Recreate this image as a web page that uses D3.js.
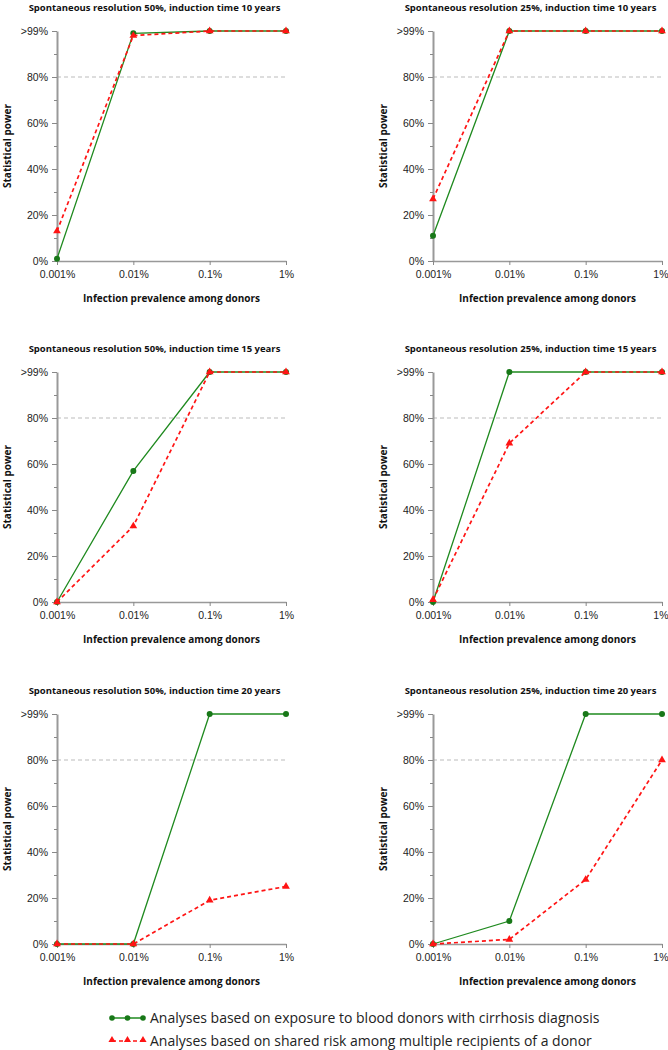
<!DOCTYPE html>
<html>
<head>
<meta charset="utf-8">
<script src="https://cdn.jsdelivr.net/npm/d3@7"></script>
<style>
  body { margin: 0; background: #fff; }
  svg { display: block; font-family: "Open Sans", sans-serif; }
  .tick text { fill: #222; font-size: 10.5px; }
  .title { font-weight: bold; font-size: 9.5px; fill: #111; }
  .axis-label { font-weight: bold; font-size: 10px; fill: #111; }
  .legend text { font-size: 14px; fill: #222; }
</style>
</head>
<body>
<div id="chart"></div>
<script>
// data
const prevalence = ['0.001%', '0.01%', '0.1%', '1%'];
const yTickValues = [0, 20, 40, 60, 80, 100];
const yTickLabels = ['0%', '20%', '40%', '60%', '80%', '>99%'];
const yMinorTicks = [10, 30, 50, 70, 90];
const threshold = 80;

const panelTitles = [
  'Spontaneous resolution 50%, induction time 10 years',
  'Spontaneous resolution 25%, induction time 10 years',
  'Spontaneous resolution 50%, induction time 15 years',
  'Spontaneous resolution 25%, induction time 15 years',
  'Spontaneous resolution 50%, induction time 20 years',
  'Spontaneous resolution 25%, induction time 20 years'
];

// green: exposure to donors with cirrhosis diagnosis
const cirrhosisPower = [
  [1, 99, 100, 100],
  [11, 100, 100, 100],
  [0, 57, 100, 100],
  [0, 100, 100, 100],
  [0, 0, 100, 100],
  [0, 10, 100, 100]
];
// red: shared risk among multiple recipients
const sharedRiskPower = [
  [13, 98, 100, 100],
  [27, 100, 100, 100],
  [0, 33, 100, 100],
  [1, 69, 100, 100],
  [0, 0, 19, 25],
  [0, 2, 28, 80]
];

const legendLabels = [
  'Analyses based on exposure to blood donors with cirrhosis diagnosis',
  'Analyses based on shared risk among multiple recipients of a donor'
];

const width = 668;
const height = 1050;
const colLeft = [57, 433];
const rowTop = [31, 372, 714];
const plotW = 229;
const plotH = 230;
const green = '#1f8a1f';
const red = '#ff1414';

const svg = d3.select('#chart')
  .append('svg')
  .attr('width', width)
  .attr('height', height);

const x = d3.scalePoint().domain(prevalence).range([0, plotW]);
const y = d3.scaleLinear().domain([0, 100]).range([plotH, 0]);

const line = d3.line()
  .x((d, i) => x(prevalence[i]))
  .y(d => y(d));

const triangle = d3.symbol().type(d3.symbolTriangle).size(26);

panelTitles.forEach((title, p) => {
  const col = p % 2;
  const g = svg.append('g')
    .attr('transform', `translate(${colLeft[col]},${rowTop[Math.floor(p / 2)]})`);

  // title
  g.append('text')
    .attr('class', 'title')
    .attr('x', plotW / 2 - 17)
    .attr('y', -20)
    .attr('text-anchor', 'middle')
    .text(title);

  // 80% reference line
  g.append('line')
    .attr('x1', 0).attr('x2', plotW)
    .attr('y1', y(threshold)).attr('y2', y(threshold))
    .attr('stroke', '#bbb')
    .attr('stroke-dasharray', '4,3');

  // y axis
  g.append('g')
    .call(d3.axisLeft(y).tickValues(yTickValues)
      .tickFormat((d, i) => yTickLabels[i]).tickSize(5).tickPadding(4).tickSizeOuter(0))
    .call(a => a.select('.domain').attr('stroke', '#999').attr('stroke-width', 2))
    .call(a => a.selectAll('.tick line').attr('stroke', '#888'));
  g.append('g')
    .call(d3.axisLeft(y).tickValues(yMinorTicks).tickFormat('').tickSize(3))
    .call(a => a.select('.domain').remove())
    .call(a => a.selectAll('.tick line').attr('stroke', '#888'));

  // x axis
  g.append('g')
    .attr('transform', `translate(0,${plotH})`)
    .call(d3.axisBottom(x).tickSize(4).tickPadding(6).tickSizeOuter(0))
    .call(a => a.select('.domain').attr('stroke', '#999').attr('stroke-width', 1.6))
    .call(a => a.selectAll('.tick line').attr('stroke', '#888'))
    .call(a => {
      // keep the last label inside the page on the right column
      if (col === 1) {
        a.selectAll('.tick text')
          .filter(d => d === prevalence[prevalence.length - 1])
          .attr('text-anchor', 'end')
          .attr('x', 6);
      }
    });

  g.append('text')
    .attr('class', 'axis-label')
    .attr('x', plotW / 2)
    .attr('y', plotH + 41)
    .attr('text-anchor', 'middle')
    .text('Infection prevalence among donors');

  g.append('text')
    .attr('class', 'axis-label')
    .attr('transform', `translate(-50,${plotH / 2}) rotate(-90)`)
    .attr('text-anchor', 'middle')
    .attr('dy', '0.35em')
    .text('Statistical power');

  // green series
  g.append('path')
    .attr('d', line(cirrhosisPower[p]))
    .attr('fill', 'none')
    .attr('stroke', green)
    .attr('stroke-width', 1.3);
  g.selectAll('circle')
    .data(cirrhosisPower[p])
    .join('circle')
    .attr('cx', (d, i) => x(prevalence[i]))
    .attr('cy', d => y(d))
    .attr('r', 3)
    .attr('fill', '#187818');

  // red series
  g.append('path')
    .attr('d', line(sharedRiskPower[p]))
    .attr('fill', 'none')
    .attr('stroke', red)
    .attr('stroke-width', 1.7)
    .attr('stroke-dasharray', '4,3');
  g.selectAll('.tri')
    .data(sharedRiskPower[p])
    .join('path')
    .attr('class', 'tri')
    .attr('transform', (d, i) => `translate(${x(prevalence[i])},${y(d)})`)
    .attr('d', triangle)
    .attr('fill', red);
});

// legend
const legend = svg.append('g').attr('class', 'legend');
const legX = [112, 127.5, 143];

legend.append('line')
  .attr('x1', legX[0]).attr('x2', legX[2])
  .attr('y1', 1018).attr('y2', 1018)
  .attr('stroke', green).attr('stroke-width', 1.5);
legend.selectAll('circle')
  .data(legX)
  .join('circle')
  .attr('cx', d => d).attr('cy', 1018).attr('r', 2.8)
  .attr('fill', '#187818');

legend.append('line')
  .attr('x1', legX[0]).attr('x2', legX[2])
  .attr('y1', 1041).attr('y2', 1041)
  .attr('stroke', red).attr('stroke-width', 1.7)
  .attr('stroke-dasharray', '4,3');
legend.selectAll('.tri')
  .data(legX)
  .join('path')
  .attr('class', 'tri')
  .attr('transform', d => `translate(${d},1040)`)
  .attr('d', d3.symbol().type(d3.symbolTriangle).size(22))
  .attr('fill', red);

legend.selectAll('text')
  .data(legendLabels)
  .join('text')
  .attr('x', 150)
  .attr('y', (d, i) => 1023 + i * 23)
  .text(d => d);
</script>
</body>
</html>
